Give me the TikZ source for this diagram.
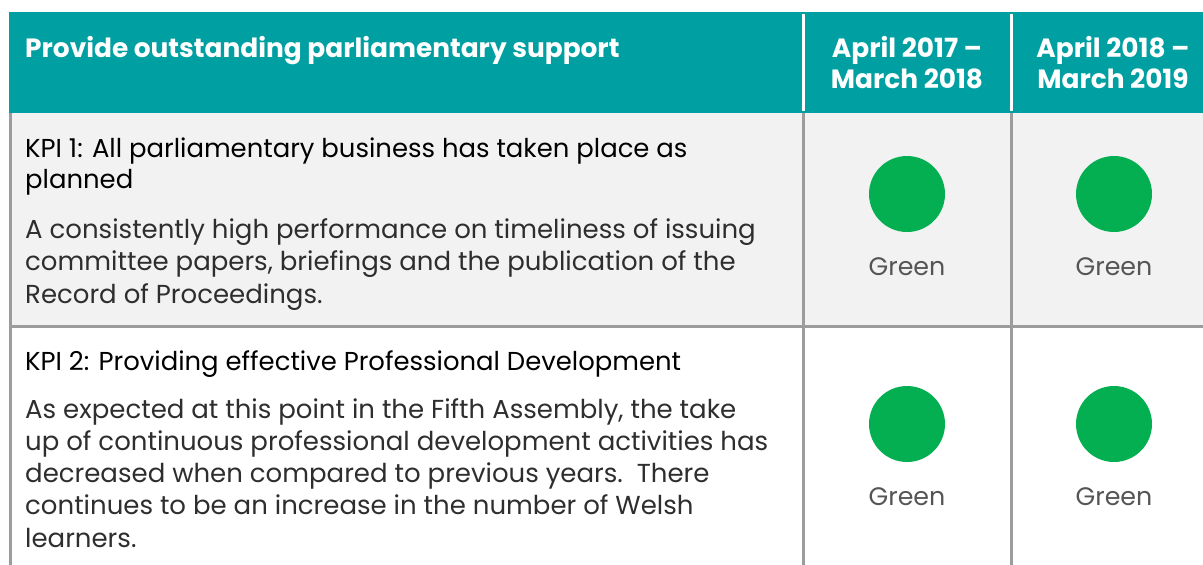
\documentclass[tikz,border=0pt]{standalone}
\usepackage{fontspec}
\setmainfont{Poppins}
\definecolor{headteal}{HTML}{00A0A2}
\definecolor{rowgray}{HTML}{F2F2F2}
\definecolor{linegray}{HTML}{9C9C9C}
\definecolor{ragreen}{HTML}{03AF50}
\definecolor{bodytext}{HTML}{2E2E2E}
\definecolor{labeltext}{HTML}{555555}
\begin{document}
\begin{tikzpicture}[x=1pt,y=-1pt,
	headtext/.style={text=white,font=\fontsize{26.4}{30}\selectfont\bfseries,inner sep=0pt},
	kpititle/.style={anchor=base west,text=black,font=\fontsize{25.9}{30}\selectfont,inner sep=0pt},
	kpibody/.style={anchor=base west,text=bodytext,font=\fontsize{26}{30}\selectfont,inner sep=0pt},
	ragdot/.style={circle,fill=ragreen,minimum size=76pt,inner sep=0pt},
	raglabel/.style={anchor=base,text=labeltext,font=\fontsize{25.3}{30}\selectfont,inner sep=0pt}]
		\useasboundingbox (0,0) rectangle (1203,565);
		\fill[headteal] (9,12) rectangle (1203,113);
		\fill[rowgray] (9,113) rectangle (1203,326);
		\fill[white] (9,326) rectangle (1203,565);
		\draw[white,line width=3pt] (803.5,14)--(803.5,110.5) (1011,14)--(1011,110.5);
		\draw[linegray,line width=3pt] (10.5,113)--(10.5,565) (803.5,113)--(803.5,565) (1011,113)--(1011,565) (9,326.5)--(1203,326.5);
		\node[headtext,anchor=base west] (head) at (25,57) {Provide outstanding parliamentary support};
		\node[headtext,anchor=base] (yearAa) at (907,57) {April 2017 –};
		\node[headtext,anchor=base] (yearAb) at (907,88) {March 2018};
		\node[headtext,anchor=base] (yearBa) at (1113,57) {April 2018 –};
		\node[headtext,anchor=base] (yearBb) at (1113,88) {March 2019};
		\node[kpititle] (kpiAa) at (25,157) {KPI 1: All parliamentary business has taken place as};
		\node[kpititle] (kpiAb) at (25,188.5) {planned};
		\foreach \t [count=\i] in {{A consistently high performance on timeliness of issuing},{committee papers, briefings and the publication of the},{Record of Proceedings.}}
			\node[kpibody] (bodyA\i) at (25,205.5+32.5*\i) {\t};
		\node[kpititle] (kpiB) at (25,370) {KPI 2: Providing effective Professional Development};
		\foreach \t [count=\i] in {{As expected at this point in the Fifth Assembly, the take},{up of continuous professional development activities has},{decreased when compared to previous years.\ \ There},{continues to be an increase in the number of Welsh},{learners.}}
			\node[kpibody] (bodyB\i) at (25,385.7+32.3*\i) {\t};
		\node[ragdot] (dotAa) at (907,194) {};
		\node[ragdot] (dotAb) at (1114,194) {};
		\node[ragdot] (dotBa) at (907,424) {};
		\node[ragdot] (dotBb) at (1114,424) {};
		\node[raglabel] (ragAa) at (907,275) {Green};
		\node[raglabel] (ragAb) at (1114,275) {Green};
		\node[raglabel] (ragBa) at (907,505) {Green};
		\node[raglabel] (ragBb) at (1114,505) {Green};
	\end{tikzpicture}
\end{document}
